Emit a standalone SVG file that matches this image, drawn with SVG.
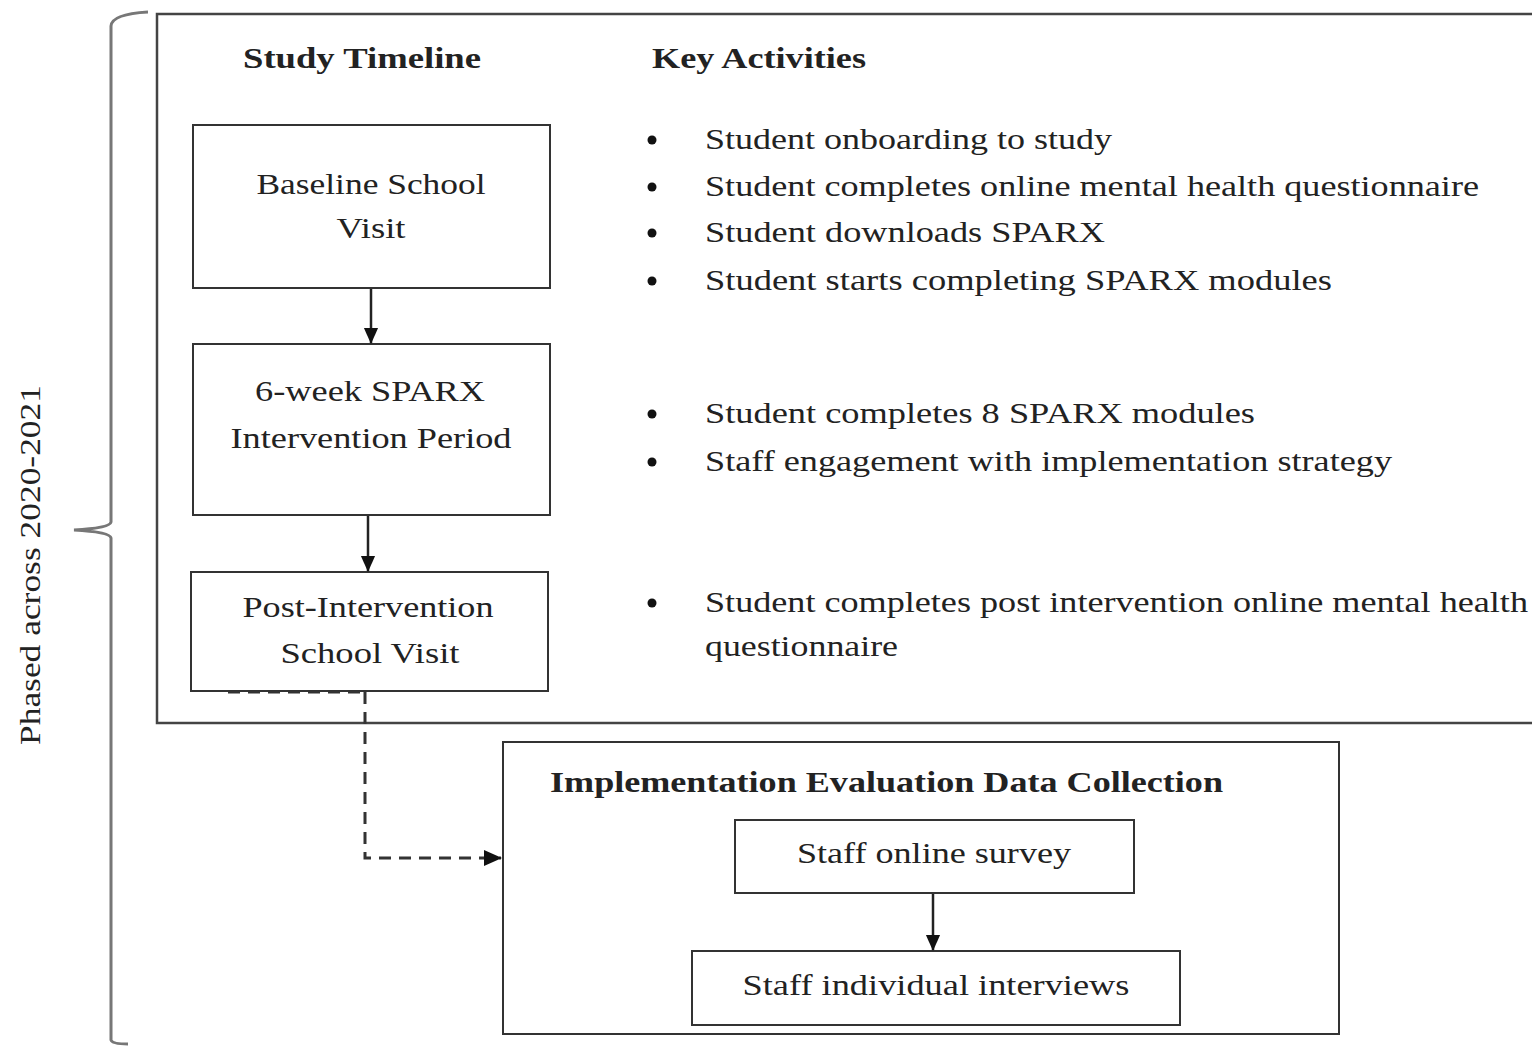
<svg xmlns="http://www.w3.org/2000/svg" width="1532" height="1046" viewBox="0 0 1532 1046">
<style>
  .box { fill: #fff; stroke: #333; stroke-width: 2; }
  .t { font-family: "Liberation Serif", "Times New Roman", serif; font-size: 30px; fill: #222; }
  .c { text-anchor: middle; }
  .b { font-weight: bold; }
  .conn { stroke: #222; stroke-width: 2.5; fill: none; }
  .dash { stroke: #333; stroke-width: 3; fill: none; stroke-dasharray: 12 8; }
</style>
<defs>
  <marker id="ah" markerWidth="16" markerHeight="18" refX="17" refY="8" orient="auto" markerUnits="userSpaceOnUse" viewBox="0 0 18 16">
    <path d="M0,0 L18,8 L0,16 z" fill="#111"/>
  </marker>
  <marker id="ahd" markerWidth="18" markerHeight="18" refX="17" refY="8" orient="auto" markerUnits="userSpaceOnUse" viewBox="0 0 18 16">
    <path d="M0,0 L18,8 L0,16 z" fill="#111"/>
  </marker>
</defs>
<rect width="1532" height="1046" fill="#fff"/>

<g id="brace">
  <path d="M148,12 Q112,14 111,26 L111,522 Q110,528 74,530 Q110,532 111,538 L111,1040 Q112,1044 128,1044" fill="none" stroke="#777" stroke-width="3"/>
  <text class="t c" transform="translate(40,565) rotate(-90)" textLength="360" lengthAdjust="spacingAndGlyphs">Phased across 2020-2021</text>
</g>

<g id="outer-frame">
  <rect x="157" y="14" width="1380" height="709" fill="none" stroke="#444" stroke-width="2.5"/>
  <text class="t b" x="243" y="68" textLength="238" lengthAdjust="spacingAndGlyphs">Study Timeline</text>
  <text class="t b" x="652" y="68" textLength="214" lengthAdjust="spacingAndGlyphs">Key Activities</text>
</g>

<g id="baseline">
  <rect class="box" x="193" y="125" width="357" height="163"/>
  <text class="t c" x="371" y="194" textLength="229" lengthAdjust="spacingAndGlyphs">Baseline School</text>
  <text class="t c" x="371" y="238" textLength="69" lengthAdjust="spacingAndGlyphs">Visit</text>
</g>

<g id="intervention">
  <rect class="box" x="193" y="344" width="357" height="171"/>
  <text class="t c" x="370" y="401" textLength="230" lengthAdjust="spacingAndGlyphs">6-week SPARX</text>
  <text class="t c" x="371" y="448" textLength="281" lengthAdjust="spacingAndGlyphs">Intervention Period</text>
</g>

<g id="post">
  <rect class="box" x="191" y="572" width="357" height="119"/>
  <text class="t c" x="368" y="617" textLength="251" lengthAdjust="spacingAndGlyphs">Post-Intervention</text>
  <text class="t c" x="370" y="663" textLength="179" lengthAdjust="spacingAndGlyphs">School Visit</text>
</g>

<g id="activities">
  <g fill="#111">
    <circle cx="652" cy="140" r="4.5"/>
    <circle cx="652" cy="187" r="4.5"/>
    <circle cx="652" cy="233" r="4.5"/>
    <circle cx="652" cy="281" r="4.5"/>
    <circle cx="652" cy="414" r="4.5"/>
    <circle cx="652" cy="462" r="4.5"/>
    <circle cx="652" cy="603" r="4.5"/>
  </g>
  <text class="t" x="705" y="149" textLength="407" lengthAdjust="spacingAndGlyphs">Student onboarding to study</text>
  <text class="t" x="705" y="196" textLength="774" lengthAdjust="spacingAndGlyphs">Student completes online mental health questionnaire</text>
  <text class="t" x="705" y="242" textLength="400" lengthAdjust="spacingAndGlyphs">Student downloads SPARX</text>
  <text class="t" x="705" y="290" textLength="627" lengthAdjust="spacingAndGlyphs">Student starts completing SPARX modules</text>
  <text class="t" x="705" y="423" textLength="550" lengthAdjust="spacingAndGlyphs">Student completes 8 SPARX modules</text>
  <text class="t" x="705" y="471" textLength="687" lengthAdjust="spacingAndGlyphs">Staff engagement with implementation strategy</text>
  <text class="t" x="705" y="612" textLength="823" lengthAdjust="spacingAndGlyphs">Student completes post intervention online mental health</text>
  <text class="t" x="705" y="656" textLength="193" lengthAdjust="spacingAndGlyphs">questionnaire</text>
</g>

<g id="implementation">
  <rect class="box" x="503" y="742" width="836" height="292"/>
  <text class="t b" x="550" y="792" textLength="673" lengthAdjust="spacingAndGlyphs">Implementation Evaluation Data Collection</text>
</g>

<g id="survey">
  <rect class="box" x="735" y="820" width="399" height="73"/>
  <text class="t c" x="934" y="863" textLength="274" lengthAdjust="spacingAndGlyphs">Staff online survey</text>
</g>

<g id="interviews">
  <rect class="box" x="692" y="951" width="488" height="74"/>
  <text class="t c" x="936" y="995" textLength="387" lengthAdjust="spacingAndGlyphs">Staff individual interviews</text>
</g>

<g id="connectors">
  <line class="conn" x1="371" y1="289" x2="371" y2="343" marker-end="url(#ah)"/>
  <line class="conn" x1="368" y1="516" x2="368" y2="571" marker-end="url(#ah)"/>
  <line class="conn" x1="933" y1="894" x2="933" y2="950" marker-end="url(#ah)"/>
  <path class="dash" d="M228,692 L365,692"/>
  <path class="dash" d="M365,692 L365,858 L501,858" marker-end="url(#ahd)"/>
</g>
</svg>
